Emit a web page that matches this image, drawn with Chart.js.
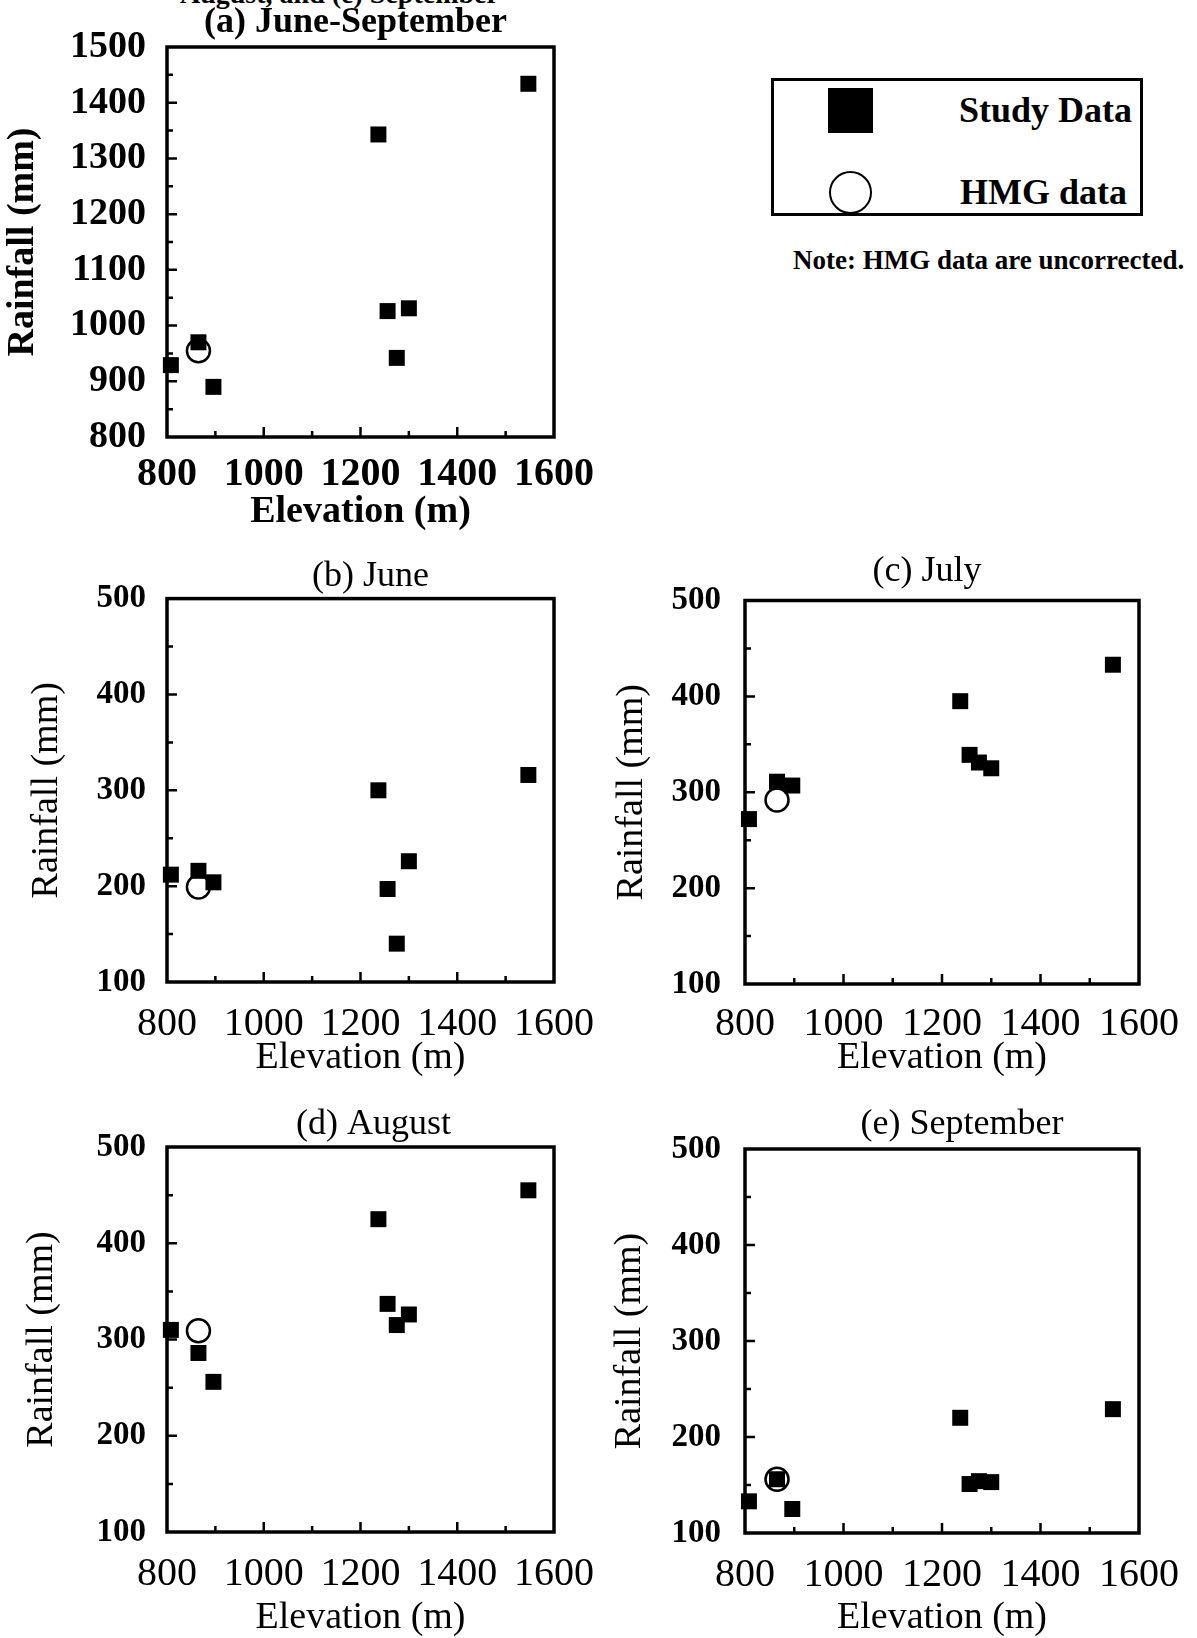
<!DOCTYPE html>
<html>
<head>
<meta charset="utf-8">
<script src="https://cdn.jsdelivr.net/npm/chart.js@4.4.1/dist/chart.umd.min.js"></script>
<style>
  body { margin: 0; background: #fff; width: 1197px; height: 1638px; position: relative; overflow: hidden;
         font-family: 'Liberation Serif', 'Times New Roman', serif; color: #000; }
  canvas { position: absolute; }
  #caption { position: absolute; left: 180px; top: -21px; font-size: 28px; font-weight: bold; line-height: 30px; white-space: nowrap; }
  #legend { position: absolute; left: 771px; top: 78px; width: 366px; height: 132px; border: 3px solid #000; }
  #legend .sq { position: absolute; left: 54px; top: 7px; width: 45px; height: 45px; background: #000; }
  #legend .ci { position: absolute; left: 55px; top: 90px; width: 39px; height: 39px; border: 2.5px solid #000; border-radius: 50%; }
  #legend .lb { position: absolute; font-size: 36px; font-weight: bold; line-height: 40px; white-space: nowrap; }
  #note { position: absolute; left: 793px; top: 245px; font-size: 27px; font-weight: bold; line-height: 30px; white-space: nowrap; }
</style>
</head>
<body>
<div id="caption">August, and (e) September</div>

<canvas id="chartA" width="600" height="540" style="left:0;top:0"></canvas>
<canvas id="chartB" width="600" height="550" style="left:0;top:540px"></canvas>
<canvas id="chartC" width="597" height="550" style="left:600px;top:540px"></canvas>
<canvas id="chartD" width="600" height="548" style="left:0;top:1090px"></canvas>
<canvas id="chartE" width="597" height="548" style="left:600px;top:1090px"></canvas>

<div id="legend">
  <div class="sq"></div>
  <div class="lb" style="right:8px;top:9px">Study Data</div>
  <div class="ci"></div>
  <div class="lb" style="right:13px;top:91px">HMG data</div>
</div>
<div id="note">Note: HMG data are uncorrected.</div>

<script>
// station elevations (m)
const elevation = [808, 865, 896, 1237, 1256, 1275, 1300, 1547];
const hmgElevation = [865];

// rainfall (mm) at each station
const rainJunSep = [929, 970, 890, 1343, 1026, 942, 1031, 1434];
const hmgJunSep = [955];
const rainJune = [212, 216, 204, 300, 197, 140, 226, 316];
const hmgJune = [199];
const rainJuly = [272, 311, 307, 395, 339, 331, 325, 433];
const hmgJuly = [292];
const rainAugust = [310, 286, 256, 425, 337, 315, 326, 455];
const hmgAugust = [309];
const rainSeptember = [133, 156, 125, 220, 151, 154, 153, 229];
const hmgSeptember = [156];

const serif = "'Liberation Serif', 'Times New Roman', serif";

function toPoints(xs, ys) {
  return xs.map((x, i) => ({ x: x, y: ys[i] }));
}

// box frame + inward ticks drawn from the scales
const frameTicks = {
  id: 'frameTicks',
  afterLayout(chart, args, opts) {
    // nudge the panel title sideways like the original
    if (chart.titleBlock && opts.titleShift) {
      chart.titleBlock.left += opts.titleShift;
      chart.titleBlock.right += opts.titleShift;
    }
  },
  beforeDatasetsDraw(chart, args, opts) {
    const { ctx, chartArea: a, scales: { x, y } } = chart;
    ctx.save();
    ctx.strokeStyle = '#000';
    ctx.lineWidth = 2.5;
    ctx.beginPath();
    for (let v = x.min + opts.xMinor; v < x.max; v += opts.xMinor) {
      const px = x.getPixelForValue(v);
      const len = (v - x.min) % opts.xMajor === 0 ? 10 : 6;
      ctx.moveTo(px, a.bottom);
      ctx.lineTo(px, a.bottom - len);
    }
    for (let v = y.min + opts.yMinor; v < y.max; v += opts.yMinor) {
      const py = y.getPixelForValue(v);
      const len = (v - y.min) % opts.yMajor === 0 ? 10 : 6;
      ctx.moveTo(a.left, py);
      ctx.lineTo(a.left + len, py);
    }
    ctx.stroke();
    ctx.lineWidth = 3.5;
    ctx.strokeRect(a.left, a.top, a.right - a.left, a.bottom - a.top);
    ctx.restore();
  }
};

function makeChart(id, p) {
  const heavy = p.bold ? 'bold' : 'normal';
  return new Chart(document.getElementById(id), {
    type: 'scatter',
    data: {
      datasets: [
        {
          label: 'Study Data',
          data: toPoints(elevation, p.study),
          pointStyle: 'rect',
          pointRadius: 11.3,
          pointHoverRadius: 11.3,
          backgroundColor: '#000',
          borderColor: '#000',
          borderWidth: 0,
          clip: false
        },
        {
          label: 'HMG data',
          data: toPoints(hmgElevation, p.hmg),
          pointStyle: 'circle',
          pointRadius: 11.5,
          pointHoverRadius: 11.5,
          backgroundColor: 'rgba(0,0,0,0)',
          borderColor: '#000',
          borderWidth: 2.5,
          clip: false
        }
      ]
    },
    options: {
      responsive: false,
      animation: false,
      devicePixelRatio: 1,
      layout: { padding: { left: 0, top: 0, bottom: 0, right: p.padRight } },
      plugins: {
        legend: { display: false },
        tooltip: { enabled: false },
        title: {
          display: true,
          fullSize: false,
          text: p.title,
          color: '#000',
          font: { family: serif, size: 36, weight: heavy },
          padding: p.titlePad
        },
        frameTicks: { xMinor: 100, xMajor: 200, yMinor: 50, yMajor: 100, titleShift: p.titleShift }
      },
      scales: {
        x: {
          type: 'linear',
          min: 800,
          max: 1600,
          grid: { display: false, drawTicks: true, tickLength: p.xTickPad },
          border: { display: false },
          ticks: {
            stepSize: 200,
            autoSkip: false,
            maxRotation: 0,
            padding: 0,
            color: '#000',
            font: { family: serif, size: 40, weight: heavy },
            callback: (v) => String(v)
          },
          title: {
            display: true,
            text: 'Elevation (m)',
            color: '#000',
            font: { family: serif, size: 38, weight: heavy },
            padding: { top: 0, bottom: p.xTitlePad }
          },
          afterFit(scale) { scale.height = p.xHeight; }
        },
        y: {
          type: 'linear',
          min: p.yMin,
          max: p.yMax,
          grid: { display: false, drawTicks: true, tickLength: p.yTickPad },
          border: { display: false },
          ticks: {
            stepSize: 100,
            padding: 0,
            color: '#000',
            font: { family: serif, size: p.yTickSize, weight: 'bold' },
            callback: (v) => String(v)
          },
          title: {
            display: true,
            text: 'Rainfall (mm)',
            color: '#000',
            font: { family: serif, size: 38, weight: heavy },
            padding: { top: p.yTitlePad, bottom: 0 }
          },
          afterFit(scale) { scale.width = p.yWidth; }
        }
      }
    },
    plugins: [frameTicks]
  });
}

makeChart('chartA', {
  title: '(a) June-September', study: rainJunSep, hmg: hmgJunSep, yMin: 800, yMax: 1500, bold: true,
  padRight: 46, yWidth: 167, xHeight: 103, titlePad: { top: 1.4, bottom: 2.4 }, titleShift: -5,
  xTickPad: 14, xTitlePad: 5, yTickPad: 21, yTitlePad: 0, yTickSize: 38
});
makeChart('chartB', {
  title: '(b) June', study: rainJune, hmg: hmgJune, yMin: 100, yMax: 500, bold: false,
  padRight: 46, yWidth: 167, xHeight: 108, titlePad: { top: 15.4, bottom: 0 }, titleShift: 10,
  xTickPad: 18, xTitlePad: 9, yTickPad: 21, yTitlePad: 24, yTickSize: 33
});
makeChart('chartC', {
  title: '(c) July', study: rainJuly, hmg: hmgJuly, yMin: 100, yMax: 500, bold: false,
  padRight: 58, yWidth: 145, xHeight: 106, titlePad: { top: 10.4, bottom: 6.9 }, titleShift: -15,
  xTickPad: 16, xTitlePad: 9, yTickPad: 24, yTitlePad: 9, yTickSize: 33
});
makeChart('chartD', {
  title: '(d) August', study: rainAugust, hmg: hmgAugust, yMin: 100, yMax: 500, bold: false,
  padRight: 46, yWidth: 167, xHeight: 106, titlePad: { top: 13.4, bottom: 0.4 }, titleShift: 13,
  xTickPad: 18, xTitlePad: -3, yTickPad: 21, yTitlePad: 19, yTickSize: 33
});
makeChart('chartE', {
  title: '(e) September', study: rainSeptember, hmg: hmgSeptember, yMin: 100, yMax: 500, bold: false,
  padRight: 58, yWidth: 145, xHeight: 105, titlePad: { top: 13.4, bottom: 2.4 }, titleShift: 20,
  xTickPad: 18, xTitlePad: -3, yTickPad: 24, yTitlePad: 7, yTickSize: 33
});
</script>
</body>
</html>
